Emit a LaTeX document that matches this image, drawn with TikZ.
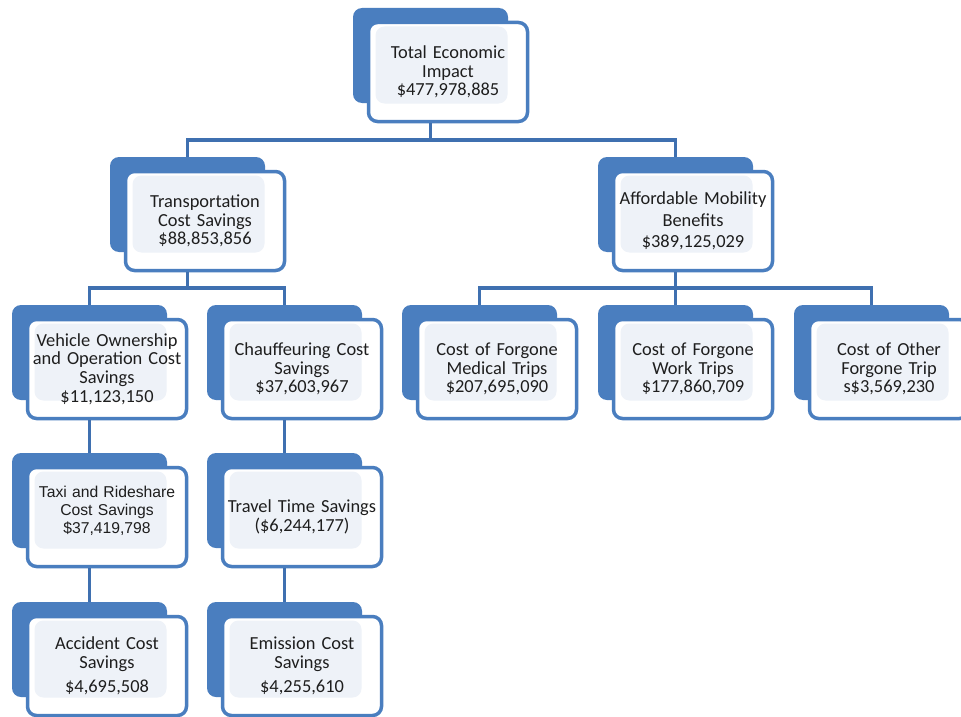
\documentclass[tikz,border=0pt]{standalone}
\usepackage{fontspec}
\setmainfont{Carlito}
\newfontfamily\arialf{Liberation Sans}
\usetikzlibrary{calc}
\definecolor{bblue}{HTML}{4A7EBF}
\definecolor{cblue}{HTML}{3F70B0}
\definecolor{inl}{HTML}{EEF2F8}
\definecolor{txt}{HTML}{1E1E1E}
\tikzset{
  backbox/.style={fill=bblue, rounded corners=9pt, minimum width=155pt, minimum height=95pt, inner sep=0pt},
  frontbox/.style={draw=bblue, fill=white, line width=3.5pt, rounded corners=9pt,
    minimum width=159pt, minimum height=99pt, inner sep=0pt, text width=154pt, align=center,
    text=txt, font=\fontsize{18.4}{18.7}\selectfont,
    path picture={\fill[inl] ($(path picture bounding box.north west)+(7,4)$) rectangle ($(path picture bounding box.south east)+(-20,-18)$);}},
  conn/.style={draw=cblue, line width=3.5pt},
}
\newcommand\orgbox[5]{%
  \node[backbox] (#1b) at ({#2+77.5},{#3+47.5}) {};
  \node[frontbox,#5] (#1) at ({#2+95},{#3+64}) {#4};
}
\begin{document}
\begin{tikzpicture}[x=1pt,y=-1pt]
\useasboundingbox (0,0) rectangle (961,717);
\clip (0,0) rectangle (961,717);
\fill[white] (0,0) rectangle (961,717);
% level 1
\orgbox{top}{353}{8}{Total Economic\\Impact\\\$477,978,885}{}
% level 2
\orgbox{tcs}{110}{157}{Transportation\\Cost Savings\\\$88,853,856}{}
\orgbox{am}{598}{157}{Affordable Mobility\\[3pt]Benefits\\[3pt]\$389,125,029}{}
% level 3
\orgbox{vo}{12}{305}{Vehicle Ownership\\and Operation Cost\\Savings\\\$11,123,150}{}
\orgbox{ch}{207}{305}{Chauffeuring Cost\\Savings\\\$37,603,967}{}
\orgbox{med}{402}{305}{Cost of Forgone\\Medical Trips\\\$207,695,090}{}
\orgbox{wk}{598}{305}{Cost of Forgone\\Work Trips\\\$177,860,709}{}
\orgbox{oth}{794}{305}{Cost of Other\\Forgone Trip\\s\$3,569,230}{}
% level 4
\orgbox{tax}{12}{453}{Taxi and Rideshare\\Cost Savings\\\$37,419,798\\[-4pt]\mbox{}}{font=\arialf\fontsize{15.7}{18}\selectfont}
\orgbox{tt}{207}{453}{Travel Time Savings\\(\$6,244,177)}{}
% level 5
\orgbox{acc}{12}{602}{Accident Cost\\Savings\\[6pt]\$4,695,508}{}
\orgbox{em}{207}{602}{Emission Cost\\Savings\\[6pt]\$4,255,610}{}
% connectors
\draw[conn] (topb |- top.south) -- (topb |- 0,140);
\draw[conn] (tcsb.north) -- (tcsb |- 0,140) -- (amb |- 0,140) -- (amb.north);
\draw[conn] (tcsb |- tcs.south) -- (tcsb |- 0,288);
\draw[conn] (vob.north) -- (vob |- 0,288) -- (chb |- 0,288) -- (chb.north);
\draw[conn] (amb |- am.south) -- (wkb.north);
\draw[conn] (medb.north) -- (medb |- 0,288) -- (othb |- 0,288) -- (othb.north);
\draw[conn] (vob |- vo.south) -- (taxb.north);
\draw[conn] (taxb |- tax.south) -- (accb.north);
\draw[conn] (chb |- ch.south) -- (ttb.north);
\draw[conn] (ttb |- tt.south) -- (emb.north);
\end{tikzpicture}
\end{document}
